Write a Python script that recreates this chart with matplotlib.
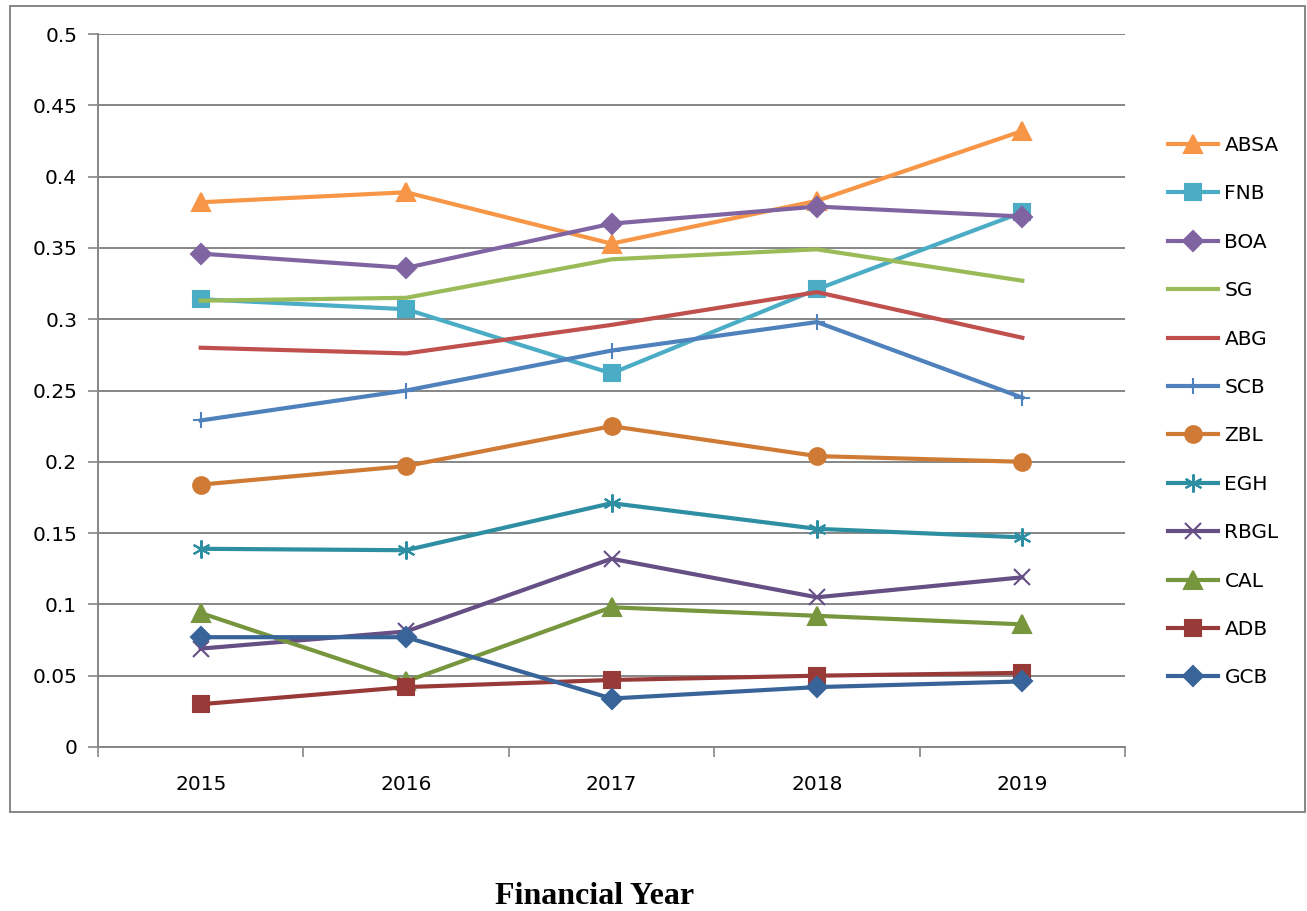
import matplotlib.pyplot as plt
from matplotlib.patches import Rectangle

years = ['2015', '2016', '2017', '2018', '2019']

absa = [0.382, 0.389, 0.353, 0.383, 0.432]
fnb = [0.314, 0.307, 0.262, 0.321, 0.375]
boa = [0.346, 0.336, 0.367, 0.379, 0.372]
sg = [0.313, 0.315, 0.342, 0.349, 0.327]
abg = [0.280, 0.276, 0.296, 0.319, 0.287]
scb = [0.229, 0.250, 0.278, 0.298, 0.245]
zbl = [0.184, 0.197, 0.225, 0.204, 0.200]
egh = [0.139, 0.138, 0.171, 0.153, 0.147]
rbgl = [0.069, 0.081, 0.132, 0.105, 0.119]
cal = [0.094, 0.046, 0.098, 0.092, 0.086]
adb = [0.030, 0.042, 0.047, 0.050, 0.052]
gcb = [0.077, 0.077, 0.034, 0.042, 0.046]

series = [
    ('ABSA', absa, '#F79646', '^', 13),
    ('FNB', fnb, '#4BACC6', 's', 12),
    ('BOA', boa, '#8064A2', 'D', 10),
    ('SG', sg, '#9BBB59', None, 0),
    ('ABG', abg, '#C0504D', None, 0),
    ('SCB', scb, '#4F81BD', '+', 12),
    ('ZBL', zbl, '#D07B35', 'o', 12),
    ('EGH', egh, '#2E8FA3', (6, 2, 0), 13),
    ('RBGL', rbgl, '#654F84', 'x', 12),
    ('CAL', cal, '#77963D', '^', 13),
    ('ADB', adb, '#983A38', 's', 12),
    ('GCB', gcb, '#39649A', 'D', 10),
]

fig = plt.figure(figsize=(13.07, 9.11), dpi=100)
ax = fig.add_axes([98 / 1307, 1 - 747 / 911, (1125 - 98) / 1307, (747 - 34) / 911])

x = list(range(len(years)))
for name, vals, col, mk, ms in series:
    ax.plot(x, vals, color=col, lw=3, marker=mk, markersize=ms,
            markeredgewidth=1.5, markeredgecolor=col, label=name, zorder=3)

ax.set_xlim(-0.5, 4.5)
ax.set_ylim(0, 0.5)
ax.set_yticks([0, 0.05, 0.1, 0.15, 0.2, 0.25, 0.3, 0.35, 0.4, 0.45, 0.5])
ax.set_yticklabels(['0', '0.05', '0.1', '0.15', '0.2', '0.25', '0.3', '0.35', '0.4', '0.45', '0.5'])
ax.set_xticks(x)
ax.set_xticklabels(years)
ax.set_xticks([i - 0.5 for i in range(6)], minor=True)
ax.tick_params(axis='x', which='major', length=0, pad=20, labelsize=14.5)
ax.tick_params(axis='x', which='minor', length=7, color='#868686', width=1.2)
ax.tick_params(axis='y', length=7, color='#868686', width=1.2, pad=8, labelsize=14.5)
ax.grid(axis='y', color='#868686', lw=1.4, zorder=0)
for s in ['top', 'right']:
    ax.spines[s].set_visible(False)
for s in ['left', 'bottom']:
    ax.spines[s].set_color('#868686')
    ax.spines[s].set_linewidth(1.4)

leg = fig.legend(loc='upper left', bbox_to_anchor=(1160 / 1307, 1 - 128 / 911),
                 frameon=False, fontsize=14.5, handlelength=2.5, labelspacing=1.46,
                 handletextpad=0.3, borderaxespad=0)

fig.patches.append(Rectangle((10 / 1307, 1 - 812 / 911), 1295 / 1307, 806 / 911,
                             transform=fig.transFigure, fill=False,
                             edgecolor='#868686', lw=1.4))

fig.text(595 / 1307, 1 - 897 / 911, 'Financial Year', ha='center', va='center',
         fontsize=23, fontweight='bold', family='Liberation Serif')

fig.savefig('out.png', dpi=100)
